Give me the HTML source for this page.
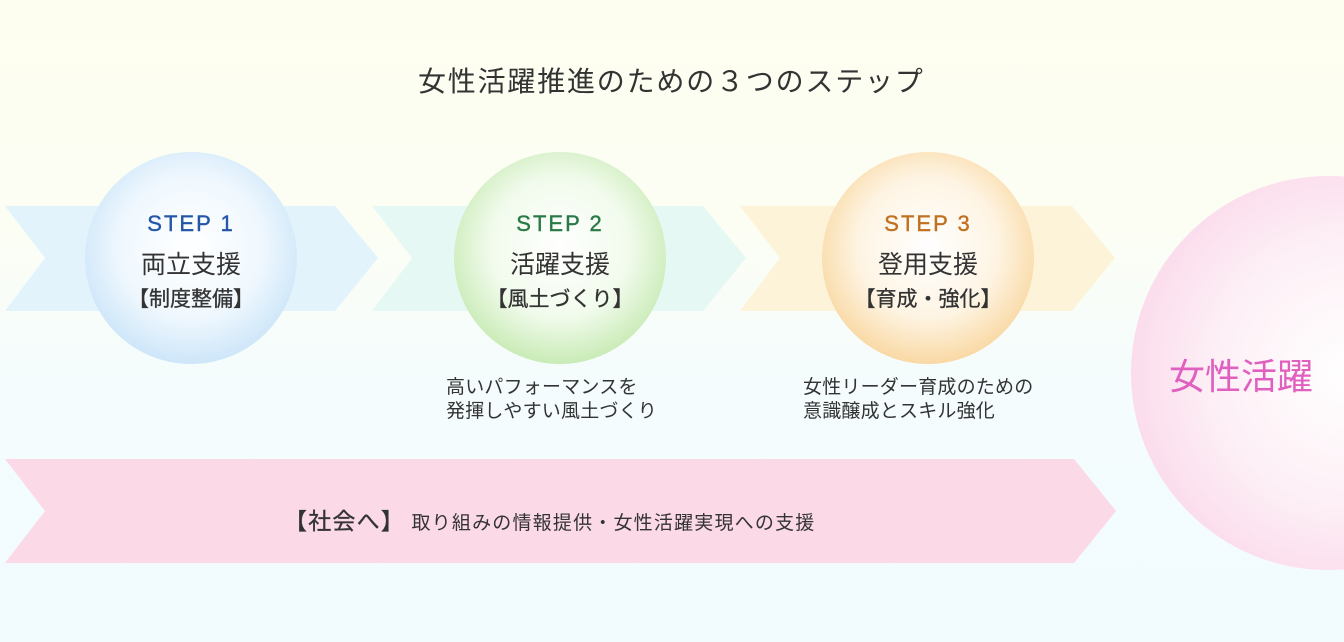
<!DOCTYPE html>
<html><head><meta charset="utf-8"><style>
body{margin:0;width:1344px;height:642px;overflow:hidden;font-family:"Liberation Sans","Noto Sans CJK JP",sans-serif;background:linear-gradient(#fefef0 0%,#fcfef4 35%,#f4fcfd 60%,#f2fbfe 100%);position:relative;color:#333}
.a{position:absolute}
.c{position:absolute;width:212px;height:212px;border-radius:50%;text-align:center}
.t{font-size:22px;letter-spacing:2px;margin-top:59px;-webkit-text-stroke:0.4px currentColor}
.m{font-size:25px;margin-top:8px}
.s{font-size:21px;margin-top:2px;-webkit-text-stroke:0.3px #333}
.d{position:absolute;font-size:19px;line-height:24px;letter-spacing:0.2px}
</style></head><body>
<div class="a" style="left:418px;top:60px;font-size:28px;letter-spacing:1.8px;color:#333">女性活躍推進のための３つのステップ</div>
<svg class="a" style="left:0;top:0" width="1344" height="642">
<polygon points="5,206 335,206 378,258 335,311 5,311 45,258" fill="#e2f3fc"/>
<polygon points="372,206 703,206 746,258 703,311 372,311 412,258" fill="#e6f8f3"/>
<polygon points="740,206 1072,206 1115,258 1072,311 740,311 780,258" fill="#fdf3d8"/>
<polygon points="5,459 1074,459 1116,511 1074,563 5,563 45,511" fill="#fbd9e7"/>
<defs>
<radialGradient id="g1" cx="50%" cy="45%" r="55%"><stop offset="0" stop-color="#fff"/><stop offset=".6" stop-color="#f0f8fe"/><stop offset="1" stop-color="#cde6f9"/></radialGradient>
<radialGradient id="g2" cx="50%" cy="45%" r="55%"><stop offset="0" stop-color="#fff"/><stop offset=".6" stop-color="#f1fbec"/><stop offset="1" stop-color="#c9ebb6"/></radialGradient>
<radialGradient id="g3" cx="50%" cy="45%" r="55%"><stop offset="0" stop-color="#fff"/><stop offset=".6" stop-color="#fef4e3"/><stop offset="1" stop-color="#f9d9a4"/></radialGradient>
<radialGradient id="g4" cx="55%" cy="50%" r="55%"><stop offset="0" stop-color="#fff"/><stop offset=".6" stop-color="#fdf0f6"/><stop offset="1" stop-color="#fbdcec"/></radialGradient>
</defs>
<circle cx="191" cy="258" r="106" fill="url(#g1)"/>
<circle cx="560" cy="258" r="106" fill="url(#g2)"/>
<circle cx="928" cy="258" r="106" fill="url(#g3)"/>
<circle cx="1328" cy="373" r="197" fill="url(#g4)"/>
</svg>
<div class="c" style="left:85px;top:152px"><div class="t" style="color:#2456a8">STEP 1</div><div class="m">両立支援</div><div class="s">【制度整備】</div></div>
<div class="c" style="left:454px;top:152px"><div class="t" style="color:#2a7a48">STEP 2</div><div class="m">活躍支援</div><div class="s">【風土づくり】</div></div>
<div class="c" style="left:822px;top:152px"><div class="t" style="color:#c07020">STEP 3</div><div class="m">登用支援</div><div class="s">【育成・強化】</div></div>
<div class="d" style="left:446px;top:376px">高いパフォーマンスを<br>発揮しやすい風土づくり</div>
<div class="d" style="left:803px;top:376px">女性リーダー育成のための<br>意識醸成とスキル強化</div>
<div class="a" style="left:284px;top:502px;font-size:19px;letter-spacing:1.2px"><span style="font-size:23px;-webkit-text-stroke:0.3px #333">【社会へ】</span> 取り組みの情報提供・女性活躍実現への支援</div>
<div class="a" style="left:1169px;top:348px;font-size:36px;color:#e060c0">女性活躍</div>
</body></html>
